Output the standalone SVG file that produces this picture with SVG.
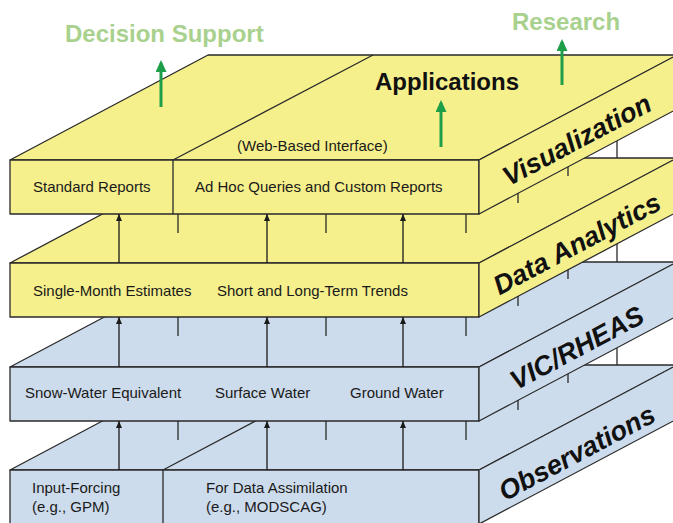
<svg xmlns="http://www.w3.org/2000/svg" width="673" height="523" viewBox="0 0 673 523">
<defs>
<marker id="ah" markerUnits="userSpaceOnUse" markerWidth="8" markerHeight="8" refX="7" refY="3" orient="auto"><path d="M0,0 L7,3 L0,6 Z" fill="#1a1a1a"/></marker>
<marker id="gh" markerUnits="userSpaceOnUse" markerWidth="13" markerHeight="12" refX="9" refY="5.5" orient="auto"><path d="M0,0 L12,5.5 L0,11 Z" fill="#1f9e4a"/></marker>
<style>
.y{fill:#f5ef8c;stroke:#2a2a2a;stroke-width:1.3;stroke-linejoin:round}
.b{fill:#cddcec;stroke:#2a2a2a;stroke-width:1.3;stroke-linejoin:round}
.ln{stroke:#2a2a2a;stroke-width:1.3;fill:none}
.t{font-family:"Liberation Sans",Arial,sans-serif;font-size:15px;fill:#1a1a1a}
.side{font-family:"Liberation Sans",Arial,sans-serif;font-size:27px;font-weight:bold;font-style:italic;fill:#111;text-anchor:middle}
.arr{stroke:#1a1a1a;stroke-width:1.3;fill:none;marker-end:url(#ah)}
.tick{stroke:#2a2a2a;stroke-width:1.3;fill:none}
.g{stroke:#1f9e4a;stroke-width:3;fill:none;marker-end:url(#gh)}
.gt{font-family:"Liberation Sans",Arial,sans-serif;font-size:24px;font-weight:bold;fill:#a9d18e}
</style>
</defs>
<rect width="673" height="523" fill="#ffffff"/>

<text class="gt" x="65" y="42">Decision Support</text>
<text class="gt" x="512" y="30">Research</text>

<g id="observations">
<polygon class="b" points="10,470 479,470 677,365 208,365"/>
<rect class="b" x="10" y="470" width="469" height="60"/>
<polygon class="b" points="479,470 677,365 677,419 479,524"/>
<path class="ln" d="M163,470 L163,530 M163,470 L361,365"/>
<text class="t" x="32" y="493">Input-Forcing</text>
<text class="t" x="32" y="512">(e.g., GPM)</text>
<text class="t" x="206" y="493">For Data Assimilation</text>
<text class="t" x="206" y="512">(e.g., MODSCAG)</text>
<text class="side" transform="translate(577,453) rotate(-28)" y="9">Observations</text>
</g>

<g id="vic-rheas">
<polygon class="b" points="10,367 479,367 677,262 208,262"/>
<rect class="b" x="10" y="367" width="469" height="54"/>
<polygon class="b" points="479,367 677,262 677,316 479,421"/>
<text class="t" x="25" y="398">Snow-Water Equivalent</text>
<text class="t" x="215" y="398">Surface Water</text>
<text class="t" x="350" y="398">Ground Water</text>
<text class="side" transform="translate(577,348) rotate(-28)" y="9">VIC/RHEAS</text>
</g>

<g id="data-analytics">
<polygon class="y" points="10,263 479,263 677,158 208,158"/>
<rect class="y" x="10" y="263" width="469" height="54"/>
<polygon class="y" points="479,263 677,158 677,212 479,317"/>
<text class="t" x="33" y="296">Single-Month Estimates</text>
<text class="t" x="217" y="296">Short and Long-Term Trends</text>
<text class="side" transform="translate(577,244) rotate(-28)" y="9">Data Analytics</text>
</g>

<g id="visualization">
<polygon class="y" points="10,160 479,160 677,55 208,55"/>
<rect class="y" x="10" y="160" width="469" height="54"/>
<polygon class="y" points="479,160 677,55 677,109 479,214"/>
<path class="ln" d="M173,160 L173,214 M173,160 L373,55"/>
<text class="t" x="33" y="192">Standard Reports</text>
<text class="t" x="195" y="192">Ad Hoc Queries and Custom Reports</text>
<text class="t" x="237" y="151">(Web-Based Interface)</text>
<text x="375" y="90" style="font-family:'Liberation Sans',Arial,sans-serif;font-size:24px;font-weight:bold;fill:#111">Applications</text>
<text class="side" transform="translate(577,140) rotate(-28)" y="9">Visualization</text>
</g>

<g id="connectors">
<line class="arr" x1="119" y1="263" x2="119" y2="214"/>
<line class="arr" x1="267" y1="263" x2="267" y2="214"/>
<line class="arr" x1="403" y1="263" x2="403" y2="214"/>
<path class="tick" d="M178,214 L178,233 M326,214 L326,233 M466,214 L466,233 M518,193 L518,203 M568,167 L568,176 M617,141 L617,158"/>
<line class="arr" x1="119" y1="367" x2="119" y2="317"/>
<line class="arr" x1="267" y1="367" x2="267" y2="317"/>
<line class="arr" x1="403" y1="367" x2="403" y2="317"/>
<path class="tick" d="M178,317 L178,336 M326,317 L326,336 M466,317 L466,336 M518,296 L518,306 M568,270 L568,279 M617,244 L617,262"/>
<line class="arr" x1="119" y1="470" x2="119" y2="421"/>
<line class="arr" x1="267" y1="470" x2="267" y2="421"/>
<line class="arr" x1="403" y1="470" x2="403" y2="421"/>
<path class="tick" d="M178,421 L178,440 M326,421 L326,440 M466,421 L466,440 M518,400 L518,410 M568,374 L568,383 M617,348 L617,365"/>
<line class="g" x1="161" y1="107" x2="161" y2="63"/>
<line class="g" x1="441" y1="147" x2="441" y2="103"/>
<line class="g" x1="562" y1="85" x2="562" y2="42"/>
</g>
</svg>
